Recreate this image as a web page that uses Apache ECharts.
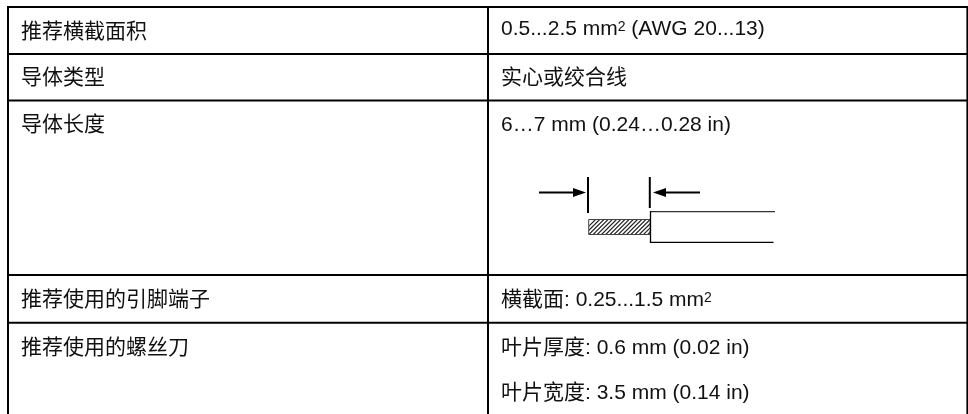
<!DOCTYPE html>
<html>
<head>
<meta charset="utf-8">
<style>
  html, body { margin: 0; padding: 0; background: #fff; }
  #chart { width: 968px; height: 414px; }
</style>
</head>
<body>
<div id="chart"></div>
<script src="https://cdn.jsdelivr.net/npm/echarts@6/dist/echarts.min.js"></script>
<script>
// table text, one entry per line of the table
const leftLabels = ['推荐横截面积', '导体类型', '导体长度', '推荐使用的引脚端子', '推荐使用的螺丝刀']
const leftBaselines = [39, 85.5, 132, 307, 355]
const rightLabels = [
  ['0.5...2.5 mm', '2', ' (AWG 20...13)'],
  ['实心或绞合线'],
  ['6…7 mm (0.24…0.28 in)'],
  ['横截面: 0.25...1.5 mm', '2'],
  ['叶片厚度: 0.6 mm (0.02 in)'],
  ['叶片宽度: 3.5 mm (0.14 in)']
]
const rightBaselines = [36, 85.5, 132, 307, 355, 400]

const hLines = [7, 54, 100.5, 275, 322.7]
const vLines = [8, 488, 967.2]
const tableBottom = 414

const font = '"Liberation Sans", "Noto Sans CJK SC", sans-serif'
const ink = '#111'
const fontSize = 21
const supSize = 14

let mychart = echarts.init(document.getElementById('chart'))

function line(x1, y1, x2, y2, width, color) {
  return {
    type: 'line',
    shape: { x1, y1, x2, y2 },
    style: { stroke: color || '#000', lineWidth: width || 2 }
  }
}

// y is the text baseline, middle of the em box sits about 7px above it
function text(x, y, str, size) {
  return {
    type: 'text',
    x,
    y: y - size / 3,
    style: { text: str, fill: ink, font: size + 'px ' + font, textVerticalAlign: 'middle' }
  }
}

const ctx = document.createElement('canvas').getContext('2d')
function measure(str, size) {
  ctx.font = size + 'px ' + font
  return ctx.measureText(str).width
}

let elements = []

hLines.forEach(y => elements.push(line(7, y, 968, y)))
vLines.forEach((x, i) => elements.push(line(x, 6, x, tableBottom, i == 2 ? 1.6 : 2)))

leftLabels.forEach((s, i) => elements.push(text(21, leftBaselines[i], s, fontSize)))

rightLabels.forEach((parts, i) => {
  let x = 501
  parts.forEach(p => {
    if (p === '2') {
      elements.push(text(x, rightBaselines[i] - 4.5, p, supSize))
      x += measure(p, supSize)
    } else {
      elements.push(text(x, rightBaselines[i], p, fontSize))
      x += measure(p, fontSize)
    }
  })
})

// wire sketch
const hatch = []
for (let x = 580; x < 652; x += 4.2) {
  hatch.push(line(x, 235, x + 16, 219, 1.2, '#222'))
}
elements.push({
  type: 'group',
  children: hatch.map(h => ({
    ...h,
    clipPath: { type: 'rect', shape: { x: 589, y: 220, width: 61, height: 14 } }
  }))
})
elements.push({
  type: 'rect',
  shape: { x: 588.7, y: 219.5, width: 61.5, height: 15 },
  style: { fill: 'none', stroke: '#444', lineWidth: 1 }
})
elements.push(line(650.5, 211.7, 775, 211.7, 1.3, '#333'))
elements.push(line(650.5, 211, 650.5, 243, 1.3))
elements.push(line(650.5, 242.4, 773.5, 242.4, 1.3))
elements.push(line(588, 177, 588, 213))
elements.push(line(649.8, 177, 649.8, 208))
elements.push(line(539, 192.4, 576, 192.4, 2))
elements.push(line(662, 192.4, 700, 192.4, 2))
elements.push({ type: 'polygon', shape: { points: [[573, 188], [586, 192.4], [573, 197]] }, style: { fill: '#000' } })
elements.push({ type: 'polygon', shape: { points: [[666, 188], [653, 192.4], [666, 197]] }, style: { fill: '#000' } })

mychart.setOption({
  animation: false,
  backgroundColor: '#fff',
  graphic: { elements }
})
</script>
</body>
</html>
